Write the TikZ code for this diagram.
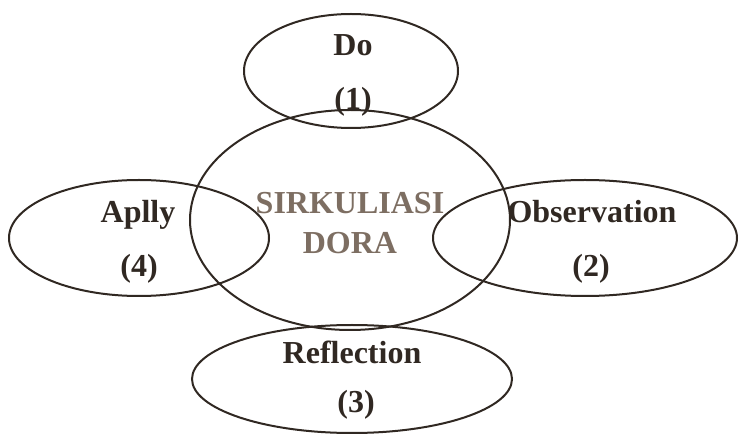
\documentclass[tikz,border=0pt]{standalone}
\usepackage{fontspec}
\setmainfont{Liberation Serif}
\usetikzlibrary{shapes.geometric}
\definecolor{ink}{RGB}{48,40,34}
\definecolor{faded}{RGB}{125,110,98}
\tikzset{
  ring/.style={ellipse, draw=ink, line width=1.5pt, inner sep=0pt},
  lbl/.style={text=ink, inner sep=0pt, text height=0.66em, text depth=0pt},
  corelbl/.style={lbl, text=faded}
}
\begin{document}
\begin{tikzpicture}[x=0.75pt, y=-0.75pt, font=\bfseries\fontsize{24}{28}\selectfont]
    \useasboundingbox (0,0) rectangle (740,438);
    \node[ring, minimum width=240pt, minimum height=165pt] (core) at (350,220) {};
    \node[ring, minimum width=160.5pt, minimum height=85.5pt] (do) at (351,71) {};
    \node[ring, minimum width=195pt, minimum height=87pt] (apply) at (139,238) {};
    \node[ring, minimum width=228pt, minimum height=87pt] (obs) at (585,238) {};
    \node[ring, minimum width=240pt, minimum height=81pt] (refl) at (352,379) {};
    \node[corelbl] (corename) at (350,209) {SIRKULIASI};
    \node[corelbl] (corename2) at (350,249) {DORA};
    \node[lbl] (doname) at (353,51) {Do};
    \node[lbl] (donum) at (353,105) {(1)};
    \node[lbl] (obsname) at (592,218) {Observation};
    \node[lbl] (obsnum) at (591,272) {(2)};
    \node[lbl] (reflname) at (352,359) {Reflection};
    \node[lbl] (reflnum) at (356,408) {(3)};
    \node[lbl] (applyname) at (138,218) {Aplly};
    \node[lbl] (applynum) at (139,272) {(4)};
\end{tikzpicture}
\end{document}
